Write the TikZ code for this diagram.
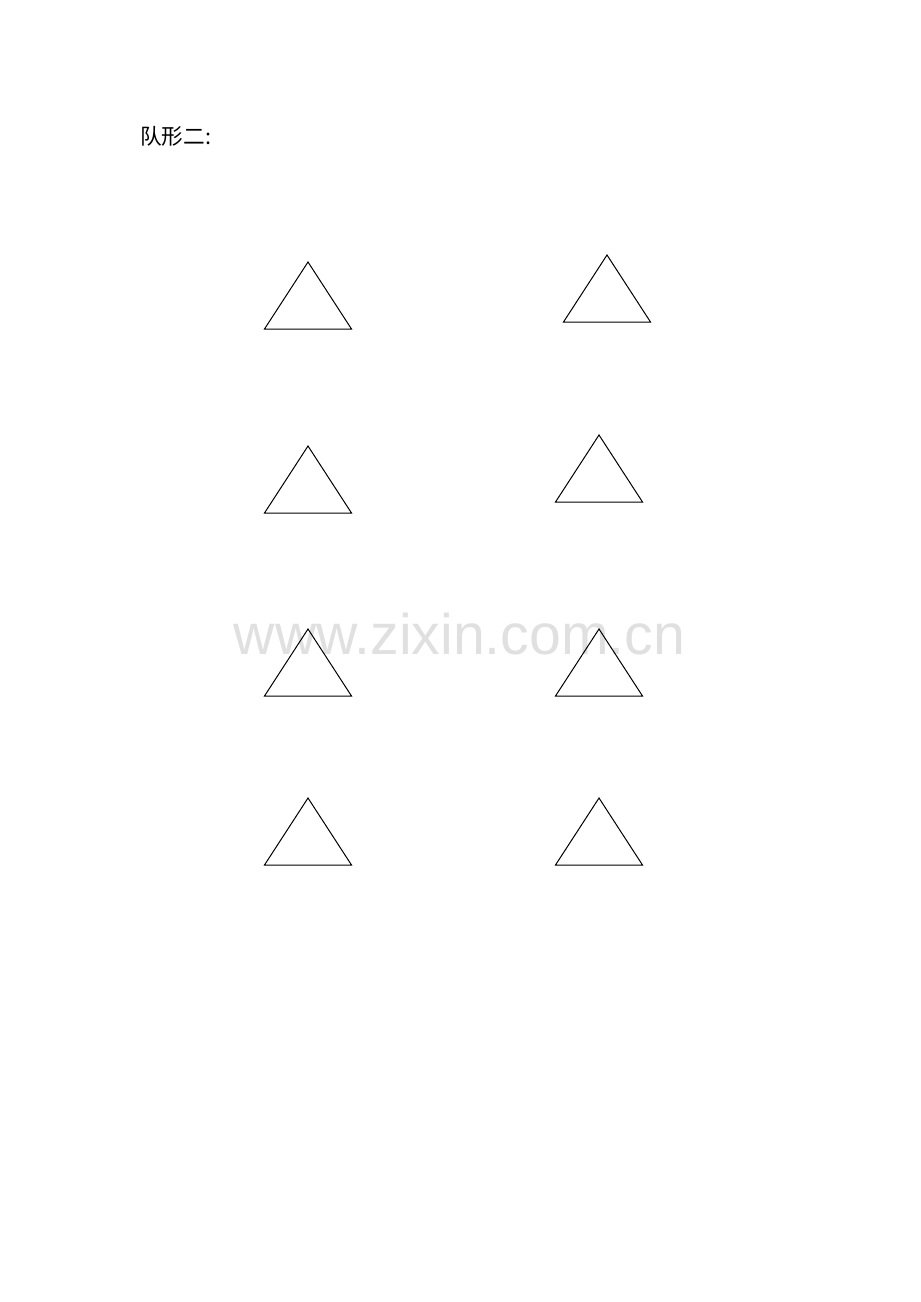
\documentclass[tikz,border=0pt]{standalone}
\usepackage{fontspec}
\newfontfamily\cjk{Noto Sans CJK SC}
\newfontfamily\wmfont{Liberation Sans}
\definecolor{wmgray}{HTML}{E0E0E0}
\begin{document}
\begin{tikzpicture}[x=0.6466pt,y=-0.6466pt,
  tri/.style={draw=black,line width=0.65pt,line join=miter},
  lbl/.style={inner sep=0pt,anchor=west,font=\cjk\fontsize{14}{16}\selectfont}]
\useasboundingbox (0,0) rectangle (920,1302);
\node[lbl] (title) at (140,136) {队形二:};
\node[inner sep=0pt,text=wmgray,font=\wmfont\fontsize{37}{40}\selectfont] (wm) at (459.5,634) {www.zixin.com.cn};
\foreach \n/\ax/\ay in {t1/308/262,t2/607/255,t3/308/446,t4/599/435,t5/308/629,t6/599/629,t7/308/798,t8/599/798}{
  \coordinate (\n) at (\ax,\ay);
  \draw[tri] (\n) -- ++(43.5,67) -- ++(-87,0) -- cycle;
}
\end{tikzpicture}
\end{document}
